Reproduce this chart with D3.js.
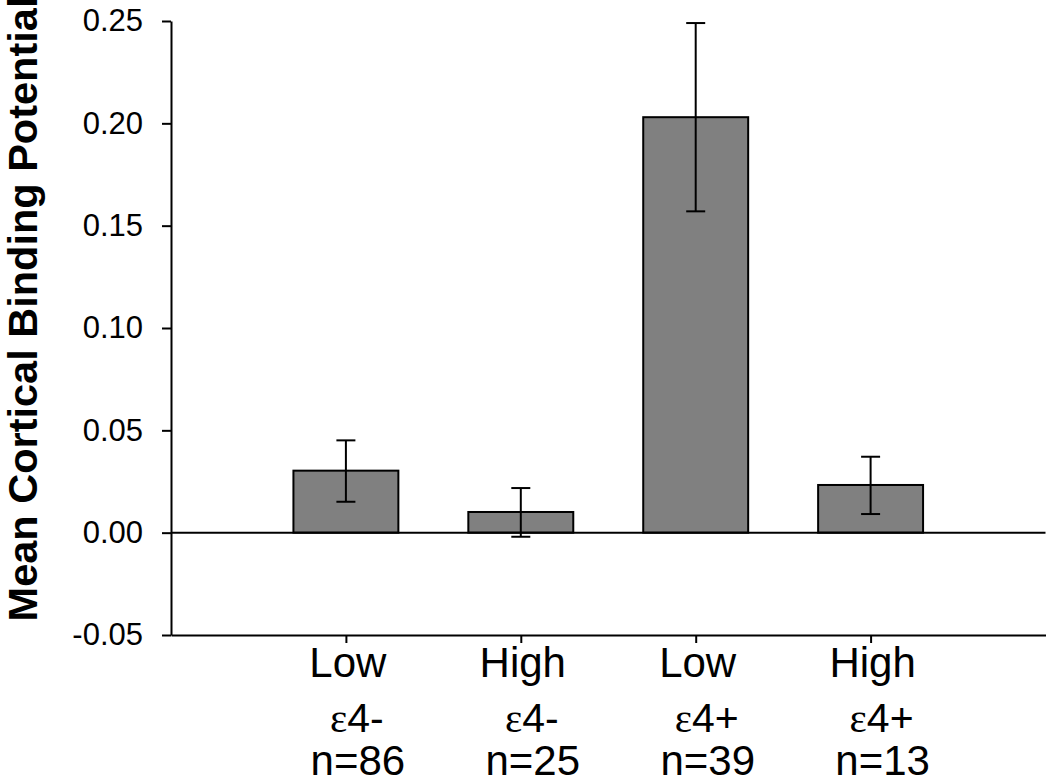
<!DOCTYPE html>
<html>
<head>
<meta charset="utf-8">
<script src="https://cdn.jsdelivr.net/npm/d3@7/dist/d3.min.js"></script>
<style>
  html, body { margin: 0; padding: 0; background: #fff; }
  svg { display: block; font-family: Arial, "Liberation Sans", sans-serif; }
</style>
</head>
<body>
<svg id="chart" width="1050" height="780"></svg>
<script>
// ---- data ----
const groups = ["Low", "High", "Low", "High"];
const alleles = ["ε4-", "ε4-", "ε4+", "ε4+"];
const counts = ["n=86", "n=25", "n=39", "n=13"];
const means = [0.0303, 0.0101, 0.203, 0.0233];
const errHigh = [0.0451, 0.0218, 0.249, 0.0371];
const errLow = [0.0151, -0.002, 0.157, 0.0091];
const yTicks = [-0.05, 0.00, 0.05, 0.10, 0.15, 0.20, 0.25];
const yLabel = "Mean Cortical Binding Potential";

// ---- layout ----
const svg = d3.select("#chart");
const mLeft = 171, mRight = 1045.5, mTop = 21, mBottom = 635;

const x = d3.scaleLinear().domain([0, groups.length + 1]).range([mLeft, mRight]);
const y = d3.scaleLinear().domain([-0.05, 0.25]).range([mBottom, mTop]);
const step = x(1) - x(0);
const barW = step * 0.6;

const data = means.map((m, i) => ({ i, m, hi: errHigh[i], lo: errLow[i] }));

// bars
svg.append("g").selectAll("rect").data(data).join("rect")
  .attr("x", d => x(d.i + 1) - barW / 2)
  .attr("width", barW)
  .attr("y", d => y(Math.max(0, d.m)))
  .attr("height", d => Math.abs(y(d.m) - y(0)))
  .attr("fill", "#808080")
  .attr("stroke", "#000")
  .attr("stroke-width", 2);

// error bars
const eg = svg.append("g").attr("stroke", "#000").attr("stroke-width", 2);
eg.selectAll("line.v").data(data).join("line").attr("class", "v")
  .attr("x1", d => x(d.i + 1)).attr("x2", d => x(d.i + 1))
  .attr("y1", d => y(d.hi)).attr("y2", d => y(d.lo));
eg.selectAll("line.t").data(data).join("line").attr("class", "t")
  .attr("x1", d => x(d.i + 1) - 9.5).attr("x2", d => x(d.i + 1) + 9.5)
  .attr("y1", d => y(d.hi)).attr("y2", d => y(d.hi));
eg.selectAll("line.b").data(data).join("line").attr("class", "b")
  .attr("x1", d => x(d.i + 1) - 9.5).attr("x2", d => x(d.i + 1) + 9.5)
  .attr("y1", d => y(d.lo)).attr("y2", d => y(d.lo));

// zero line
svg.append("line")
  .attr("x1", mLeft).attr("x2", mRight)
  .attr("y1", y(0)).attr("y2", y(0))
  .attr("stroke", "#000").attr("stroke-width", 2);

// y axis
const fmt = d3.format(".2f");
const yAxis = svg.append("g")
  .attr("transform", `translate(${mLeft},0)`)
  .call(d3.axisLeft(y).tickValues(yTicks).tickFormat(d => fmt(d).replace("−", "-")).tickSize(9).tickPadding(19).tickSizeOuter(0));
yAxis.select(".domain").attr("stroke-width", 2);
yAxis.selectAll(".tick line").attr("stroke-width", 2);
yAxis.selectAll(".tick text").attr("font-size", 31).attr("fill", "#000")
  .attr("font-family", "Arial, 'Liberation Sans', sans-serif");

// x axis (at bottom of plot)
const xAxis = svg.append("g")
  .attr("transform", `translate(0,${mBottom})`)
  .call(d3.axisBottom(x).tickValues(d3.range(1, groups.length + 1)).tickFormat("").tickSize(8).tickSizeOuter(0));
xAxis.select(".domain").attr("stroke-width", 2);
xAxis.selectAll(".tick line").attr("stroke-width", 2);

// category labels (3 lines)
const lab = svg.append("g").attr("text-anchor", "middle").attr("fill", "#000")
  .attr("font-family", "Arial, 'Liberation Sans', sans-serif");
groups.forEach((g, i) => {
  const cx = x(i + 1);
  lab.append("text").attr("x", cx + 2).attr("y", 677).attr("font-size", 42).text(g);
  const t2 = lab.append("text").attr("x", cx + 11).attr("y", 732).attr("font-size", 41);
  t2.append("tspan").attr("font-family", "'Liberation Serif', 'DejaVu Serif', serif").text(alleles[i].slice(0, 1));
  t2.append("tspan").text(alleles[i].slice(1));
  lab.append("text").attr("x", cx + 12).attr("y", 775).attr("font-size", 42).text(counts[i]);
});

// y label
svg.append("text")
  .attr("transform", `translate(37,309) rotate(-90)`)
  .attr("text-anchor", "middle")
  .attr("font-size", 41.5)
  .attr("font-weight", "bold")
  .attr("fill", "#000")
  .text(yLabel);
</script>
</body>
</html>
